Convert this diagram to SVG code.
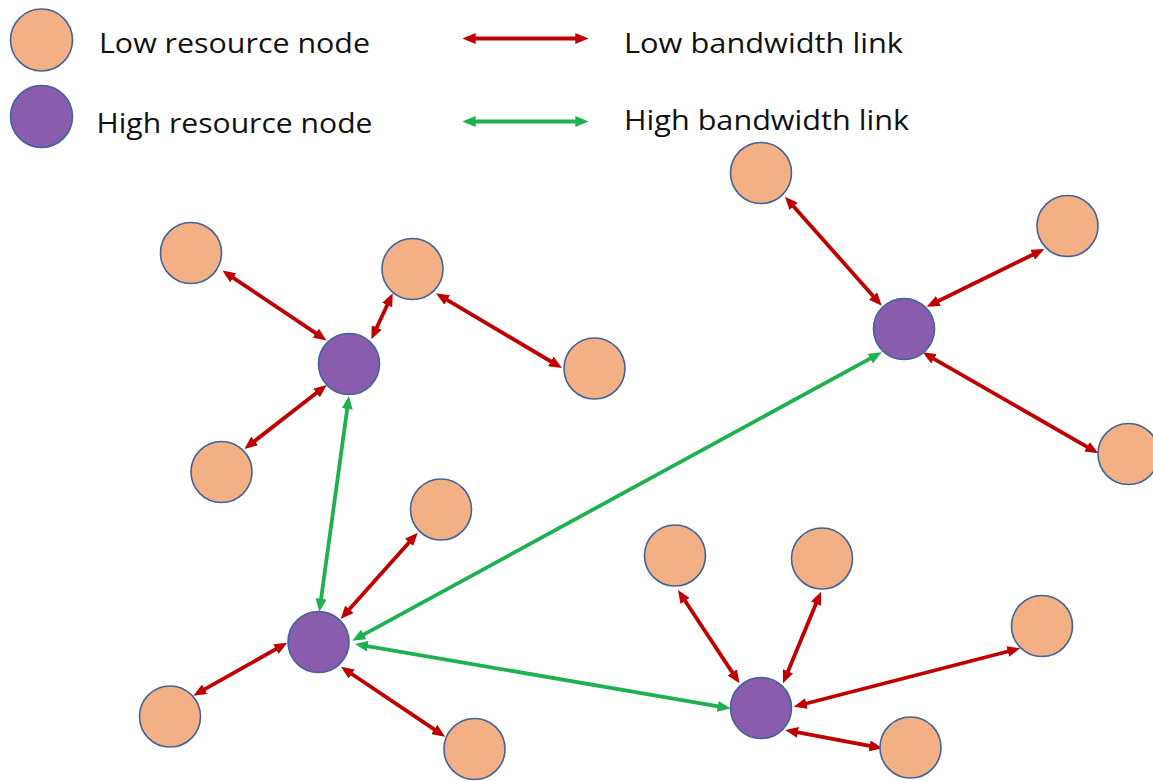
<svg xmlns="http://www.w3.org/2000/svg" width="1153" height="781" viewBox="0 0 1153 781">
  <style>
    .low { fill: #F2B084; stroke: #42639A; stroke-width: 1.6; }
    .high { fill: #895CAD; stroke: #42639A; stroke-width: 1.6; }
    .lbl { font-family: "Open Sans", Lato, "Liberation Sans", sans-serif; font-size: 28px; fill: #111111; }
    .red { stroke: #C00000; stroke-width: 3.8; fill: none; marker-start: url(#ah-red); marker-end: url(#ah-red); }
    .green { stroke: #1FB04F; stroke-width: 3.8; fill: none; marker-start: url(#ah-green); marker-end: url(#ah-green); }
  </style>
  <defs>
    <marker id="ah-red" viewBox="0 0 13 11" refX="8" refY="5.5" markerWidth="13" markerHeight="11" markerUnits="userSpaceOnUse" orient="auto-start-reverse">
      <path d="M0,0 L13,5.5 L0,11 z" fill="#C00000"/>
    </marker>
    <marker id="ah-green" viewBox="0 0 13 11" refX="8" refY="5.5" markerWidth="13" markerHeight="11" markerUnits="userSpaceOnUse" orient="auto-start-reverse">
      <path d="M0,0 L13,5.5 L0,11 z" fill="#1FB04F"/>
    </marker>
  </defs>
  <rect width="1153" height="781" fill="#FFFFFF"/>

  <!-- legend -->
  <g id="legend">
    <circle class="low" cx="41.5" cy="40" r="31"/>
    <circle class="high" cx="41.5" cy="116.5" r="31"/>
    <text class="lbl" x="99" y="53" textLength="271" lengthAdjust="spacingAndGlyphs">Low resource node</text>
    <text class="lbl" x="96.5" y="133" textLength="276" lengthAdjust="spacingAndGlyphs">High resource node</text>
    <line class="red" x1="467.7" y1="38.5" x2="583.3" y2="38.5"/>
    <line class="green" x1="467.7" y1="121.5" x2="583.3" y2="121.5"/>
    <text class="lbl" x="624" y="52.5" textLength="279" lengthAdjust="spacingAndGlyphs">Low bandwidth link</text>
    <text class="lbl" x="624" y="130" textLength="285" lengthAdjust="spacingAndGlyphs">High bandwidth link</text>
  </g>

  <!-- links -->
  <g id="connectors">
    <!-- hub A -->
    <line class="red" x1="226.6" y1="273.3" x2="322.4" y2="337.7"/>
    <line class="red" x1="373.4" y1="334.8" x2="390.6" y2="297.8"/>
    <line class="red" x1="440.3" y1="295.9" x2="557.7" y2="365.5"/>
    <line class="red" x1="322.8" y1="388.1" x2="248.3" y2="445.9"/>
    <!-- hub B -->
    <line class="red" x1="788.3" y1="200.4" x2="878.4" y2="302"/>
    <line class="red" x1="1039.8" y1="251.2" x2="931.2" y2="304.5"/>
    <line class="red" x1="927" y1="354.8" x2="1094" y2="450.8"/>
    <!-- hub C -->
    <line class="red" x1="344" y1="615.3" x2="414.4" y2="536.4"/>
    <line class="red" x1="282.9" y1="645.2" x2="197.7" y2="693.2"/>
    <line class="red" x1="345.1" y1="669.5" x2="440.9" y2="733.9"/>
    <!-- hub D -->
    <line class="red" x1="680.7" y1="594.2" x2="736.7" y2="679.1"/>
    <line class="red" x1="819.1" y1="596.3" x2="784.9" y2="678.7"/>
    <line class="red" x1="1015.5" y1="649.5" x2="798.6" y2="705.5"/>
    <line class="red" x1="877.5" y1="747.4" x2="790.1" y2="730.9"/>
    <!-- backbone -->
    <line class="green" x1="348.3" y1="401" x2="320" y2="606.7"/>
    <line class="green" x1="877.3" y1="354.7" x2="356.7" y2="638.3"/>
    <line class="green" x1="359.9" y1="644.8" x2="725.6" y2="707.7"/>
  </g>

  <!-- hub A cluster -->
  <g id="hub-a"><circle class="high" cx="349" cy="364" r="30.5"/></g>
  <g id="a-1"><circle class="low" cx="191" cy="253" r="30.5"/></g>
  <g id="a-2"><circle class="low" cx="412.5" cy="269" r="30.5"/></g>
  <g id="a-3"><circle class="low" cx="594.5" cy="368.5" r="30.5"/></g>
  <g id="a-4"><circle class="low" cx="221.5" cy="472" r="30.5"/></g>

  <!-- hub B cluster -->
  <g id="hub-b"><circle class="high" cx="904" cy="329" r="30.5"/></g>
  <g id="b-1"><circle class="low" cx="761" cy="173" r="30.5"/></g>
  <g id="b-2"><circle class="low" cx="1067.5" cy="226" r="30.5"/></g>
  <g id="b-3"><circle class="low" cx="1128.5" cy="454" r="30.5"/></g>

  <!-- hub C cluster -->
  <g id="hub-c"><circle class="high" cx="318.5" cy="642" r="30.5"/></g>
  <g id="c-1"><circle class="low" cx="441" cy="509.5" r="30.5"/></g>
  <g id="c-2"><circle class="low" cx="170" cy="716.5" r="30.5"/></g>
  <g id="c-3"><circle class="low" cx="474.5" cy="749" r="30.5"/></g>

  <!-- hub D cluster -->
  <g id="hub-d"><circle class="high" cx="761" cy="708" r="30.5"/></g>
  <g id="d-1"><circle class="low" cx="675" cy="555.5" r="30.5"/></g>
  <g id="d-2"><circle class="low" cx="822" cy="558.5" r="30.5"/></g>
  <g id="d-3"><circle class="low" cx="1042" cy="626" r="30.5"/></g>
  <g id="d-4"><circle class="low" cx="910.5" cy="747.5" r="30.5"/></g>
</svg>
